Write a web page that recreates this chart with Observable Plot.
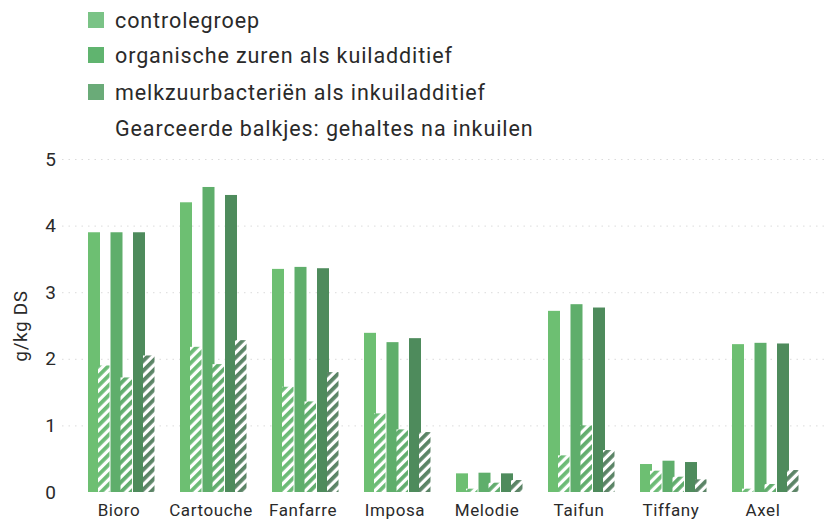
<!DOCTYPE html>
<html>
<head>
<meta charset="utf-8">
<script src="https://cdn.jsdelivr.net/npm/d3@7"></script>
<script src="https://cdn.jsdelivr.net/npm/@observablehq/plot@0.6"></script>
<style>
  html, body { margin: 0; padding: 0; background: #fff; }
  body { width: 837px; height: 526px; overflow: hidden; font-family: Roboto, "Noto Sans", sans-serif; }
  #legend { position: relative; height: 145px; }
  .row { position: absolute; left: 88px; height: 26px; display: flex; align-items: center; font-size: 21.5px; letter-spacing: 0.9px; color: #2a2a2a; }
  .sw { width: 16px; height: 16px; margin-right: 11px; }
  .nosw { width: 16px; margin-right: 11px; }
  #chart svg text { letter-spacing: 0.6px; }
</style>
</head>
<body>
<div id="legend"></div>
<div id="chart"></div>
<script>
const varieties = ["Bioro", "Cartouche", "Fanfarre", "Imposa", "Melodie", "Taifun", "Tiffany", "Axel"];
const seriesNames = ["controlegroep", "organische zuren als kuiladditief", "melkzuurbacteriën als inkuiladditief"];
const hatchNote = "Gearceerde balkjes: gehaltes na inkuilen";
const yTicks = [0, 1, 2, 3, 4, 5];
const yLabel = "g/kg DS";

// solid bars: before ensiling
const beforeControl = [3.90, 4.35, 3.35, 2.39, 0.28, 2.72, 0.42, 2.22];
const beforeAcids   = [3.90, 4.58, 3.38, 2.25, 0.29, 2.82, 0.47, 2.24];
const beforeLab     = [3.90, 4.46, 3.36, 2.31, 0.28, 2.77, 0.45, 2.23];
// hatched bars: after ensiling
const afterControl  = [1.90, 2.18, 1.58, 1.18, 0.05, 0.55, 0.32, 0.05];
const afterAcids    = [1.72, 1.92, 1.36, 0.94, 0.14, 1.00, 0.23, 0.12];
const afterLab      = [2.05, 2.28, 1.80, 0.90, 0.18, 0.63, 0.19, 0.33];

const solidColors = ["#6dbf72", "#5fae6b", "#4e8b5c"];
const hatchColors = ["#6cbb76", "#62ad6e", "#5b8466"];
const swatchColors = ["#7ac386", "#60b46f", "#6aab78"];

// legend
const legend = document.getElementById("legend");
const rowY = [7, 42, 79, 115];
[...seriesNames, hatchNote].forEach((name, i) => {
  const r = document.createElement("div");
  r.className = "row";
  r.style.top = rowY[i] + "px";
  const s = document.createElement("span");
  if (i < 3) { s.className = "sw"; s.style.background = swatchColors[i]; } else { s.className = "nosw"; }
  r.appendChild(s);
  const t = document.createElement("span");
  t.textContent = name;
  r.appendChild(t);
  legend.appendChild(r);
});

const before = [beforeControl, beforeAcids, beforeLab];
const after = [afterControl, afterAcids, afterLab];
const toRows = (arr) => varieties.map((v, j) => ({variety: v, value: arr[j]}));

const bw = 70; // approx bandwidth
const solidMarks = before.map((arr, i) => Plot.barY(toRows(arr), {
  x: "variety", y: "value", fill: solidColors[i],
  insetLeft: 22.5 * i, insetRight: bw - 22.5 * i - 13
}));
const hatchMarks = after.map((arr, i) => Plot.barY(toRows(arr), {
  x: "variety", y: "value", fill: `url(#hatch${i})`,
  insetLeft: 22.5 * i + 10, insetRight: bw - 22.5 * i - 22.5
}));

const chart = Plot.plot({
  width: 837,
  height: 381,
  marginLeft: 62,
  marginRight: 9,
  marginTop: 14,
  marginBottom: 34,
  style: { fontFamily: "Roboto, 'Noto Sans', sans-serif", color: "#2a2a2a", background: "#fff" },
  x: { domain: varieties, padding: 0.246, align: 0.5 },
  y: { domain: [0, 5] },
  marks: [
    Plot.ruleY([1, 2, 3, 4, 5], { stroke: "#bdbdbd", strokeDasharray: "1.5,5", strokeOpacity: 0.55 }),
    ...solidMarks,
    ...hatchMarks,
    Plot.axisY({ ticks: yTicks, tickFormat: "d", tickSize: 0, tickPadding: 6, fontSize: 19, label: null }),
    Plot.text([yLabel], { frameAnchor: "left", textAnchor: "middle", rotate: -90, dx: -42, fontSize: 19, fill: "#2a2a2a" }),
    Plot.axisX({ tickSize: 0, tickPadding: 11, fontSize: 17, dx: -4, label: null })
  ]
});

// hatch patterns
const svg = d3.select(chart.tagName.toLowerCase() === "svg" ? chart : chart.querySelector("svg"));
const defs = svg.insert("defs", ":first-child");
hatchColors.forEach((c, i) => {
  const p = defs.append("pattern")
    .attr("id", `hatch${i}`)
    .attr("patternUnits", "userSpaceOnUse")
    .attr("width", 7).attr("height", 7)
    .attr("patternTransform", "rotate(45)");
  p.append("rect").attr("width", 7).attr("height", 7).attr("fill", "#fff");
  p.append("rect").attr("width", 3.8).attr("height", 7).attr("fill", c);
});

document.getElementById("chart").appendChild(chart);
</script>
</body>
</html>
